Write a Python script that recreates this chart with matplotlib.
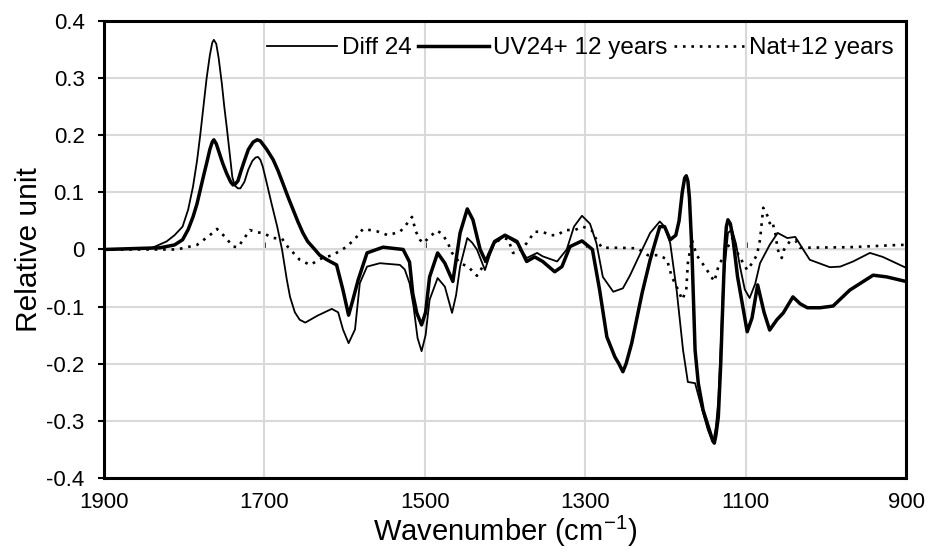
import numpy as np
import matplotlib
matplotlib.use("Agg")
import matplotlib.pyplot as plt

plt.rcParams['font.family'] = ['Liberation Sans', 'DejaVu Sans']
plt.rcParams['mathtext.fontset'] = 'custom'
plt.rcParams['mathtext.rm'] = 'Liberation Sans'
plt.rcParams['mathtext.default'] = 'regular'

# Diff 24 (thin line)
diff_wn = [1900, 1843, 1822, 1812, 1802, 1795, 1789, 1784, 1780, 1776, 1772, 1768,
           1765, 1763, 1760, 1757, 1753, 1750, 1747, 1743, 1740, 1737, 1733, 1730,
           1725, 1720, 1715, 1711, 1708, 1705, 1702, 1697, 1691, 1684, 1678, 1672,
           1668, 1662, 1656, 1649, 1634, 1616, 1608, 1602, 1595, 1587, 1581, 1572,
           1556, 1531, 1525, 1519, 1514, 1509, 1504, 1499, 1494, 1484, 1475, 1466,
           1461, 1456, 1447, 1441, 1435, 1425, 1419, 1413, 1400, 1385, 1373, 1360,
           1353, 1335, 1323, 1314, 1304, 1294, 1286, 1278, 1265, 1253, 1244, 1235,
           1219, 1207, 1201, 1194, 1186, 1178, 1172, 1163, 1154, 1147, 1143, 1140,
           1137, 1134, 1131, 1128, 1122, 1117, 1112, 1107, 1101, 1095, 1088, 1082,
           1070, 1060, 1048, 1038, 1030, 1020, 995, 982, 966, 945, 929, 900]
diff_val = [0.0, 0.001, 0.014, 0.025, 0.04, 0.07, 0.11, 0.155, 0.20, 0.25, 0.30, 0.34,
            0.362, 0.367, 0.36, 0.335, 0.29, 0.25, 0.215, 0.165, 0.127, 0.112, 0.107, 0.107,
            0.118, 0.14, 0.155, 0.161, 0.162, 0.157, 0.145, 0.116, 0.08, 0.04, 0.0, -0.053,
            -0.083, -0.11, -0.123, -0.128, -0.116, -0.104, -0.11, -0.14, -0.164, -0.14, -0.059, -0.03,
            -0.024, -0.027, -0.035, -0.059, -0.10, -0.155, -0.178, -0.15, -0.088, -0.05, -0.065, -0.111,
            -0.08, -0.03, 0.02, 0.012, 0.0, -0.036, -0.01, 0.011, 0.024, 0.011, -0.015, -0.006,
            -0.012, -0.021, 0.0, 0.04, 0.059, 0.045, 0.011, -0.048, -0.074, -0.068, -0.045, -0.018,
            0.029, 0.049, 0.04, 0.011, -0.071, -0.176, -0.232, -0.234, -0.281, -0.316, -0.33, -0.334,
            -0.31, -0.264, -0.17, -0.059, 0.029, 0.035, 0.01, -0.03, -0.07, -0.085, -0.06, -0.024,
            0.008, 0.029, 0.02, 0.022, 0.004, -0.018, -0.031, -0.03, -0.021, -0.006, -0.013, -0.032]

# UV24+ 12 years (thick line)
uv_wn = [1900, 1830, 1812, 1802, 1795, 1789, 1784, 1780, 1776, 1772, 1768, 1765,
         1763, 1760, 1756, 1752, 1747, 1742, 1739, 1736, 1733, 1729, 1725, 1720,
         1714, 1709, 1705, 1697, 1689, 1683, 1677, 1670, 1664, 1658, 1652, 1646,
         1639, 1631, 1622, 1610, 1602, 1595, 1590, 1583, 1572, 1552, 1527, 1519,
         1515, 1510, 1504, 1499, 1494, 1484, 1475, 1465, 1456, 1447, 1440, 1431,
         1424, 1413, 1400, 1385, 1373, 1363, 1353, 1338, 1329, 1319, 1304, 1291,
         1282, 1273, 1263, 1258, 1253, 1249, 1242, 1229, 1219, 1207, 1201, 1194,
         1187, 1183, 1179, 1176, 1174, 1172, 1170, 1167, 1163, 1159, 1153, 1144,
         1141, 1139, 1137, 1134, 1131, 1129, 1126, 1124, 1122, 1119, 1116, 1110,
         1098, 1092, 1085, 1077, 1070, 1061, 1053, 1041, 1032, 1023, 1007, 991,
         970, 941, 924, 900]
uv_val = [0.0, 0.003, 0.008, 0.017, 0.035, 0.057, 0.08, 0.104, 0.128, 0.151, 0.175, 0.188,
          0.192, 0.185, 0.168, 0.151, 0.133, 0.118, 0.113, 0.115, 0.12, 0.138, 0.155, 0.175,
          0.188, 0.192, 0.19, 0.175, 0.157, 0.138, 0.116, 0.09, 0.069, 0.048, 0.029, 0.014,
          0.003, -0.01, -0.018, -0.027, -0.071, -0.115, -0.09, -0.053, -0.006, 0.004, 0.0, -0.022,
          -0.077, -0.111, -0.132, -0.11, -0.048, -0.006, -0.024, -0.056, 0.029, 0.071, 0.052, 0.0,
          -0.021, 0.014, 0.025, 0.014, -0.021, -0.013, -0.021, -0.039, -0.03, 0.005, 0.015, 0.0,
          -0.071, -0.153, -0.188, -0.2, -0.214, -0.2, -0.164, -0.076, -0.018, 0.04, 0.04, 0.017,
          0.025, 0.05, 0.10, 0.125, 0.129, 0.12, 0.09, 0.0, -0.176, -0.234, -0.281, -0.321,
          -0.335, -0.339, -0.325, -0.293, -0.2, -0.118, 0.0, 0.04, 0.052, 0.045, 0.022, -0.048,
          -0.144, -0.12, -0.062, -0.11, -0.141, -0.123, -0.111, -0.083, -0.095, -0.102, -0.102, -0.099,
          -0.071, -0.045, -0.048, -0.056]

# Nat+12 years (dotted line)
nat_wn = [1900, 1809, 1784, 1768, 1759, 1749, 1739, 1733, 1718, 1709, 1702, 1689,
          1678, 1671, 1656, 1643, 1628, 1615, 1597, 1585, 1577, 1560, 1546, 1531,
          1525, 1516, 1511, 1506, 1502, 1494, 1485, 1479, 1472, 1466, 1456, 1446,
          1435, 1425, 1415, 1404, 1396, 1390, 1384, 1373, 1363, 1353, 1344, 1335,
          1325, 1313, 1303, 1292, 1286, 1279, 1257, 1235, 1222, 1207, 1198, 1192,
          1186, 1179, 1174, 1172, 1167, 1161, 1151, 1144, 1139, 1134, 1128, 1122,
          1116, 1110, 1103, 1098, 1092, 1086, 1082, 1078, 1072, 1070, 1067, 1063,
          1060, 1055, 1052, 1045, 1038, 1032, 970, 908, 900]
nat_val = [0.0, 0.0, 0.008, 0.025, 0.036, 0.022, 0.005, 0.004, 0.034, 0.03, 0.029, 0.02,
           0.019, 0.005, -0.018, -0.027, -0.015, -0.01, 0.005, 0.022, 0.036, 0.032, 0.025, 0.031,
           0.04, 0.057, 0.031, 0.017, 0.011, 0.022, 0.033, 0.028, 0.014, -0.006, -0.024, -0.03,
           -0.046, -0.024, 0.008, 0.02, 0.018, -0.006, -0.006, 0.011, 0.031, 0.031, 0.025, 0.025,
           0.034, 0.034, 0.04, 0.034, 0.017, 0.003, 0.003, 0.002, -0.01, -0.01, -0.018, -0.048,
           -0.065, -0.088, -0.071, -0.024, 0.017, -0.01, -0.03, -0.045, -0.056, -0.03, -0.013, 0.005,
           0.02, -0.006, -0.024, -0.036, -0.024, -0.01, 0.017, 0.073, 0.057, 0.046, 0.05, 0.029,
           0.0, -0.015, 0.0, 0.014, 0.016, 0.003, 0.004, 0.008, 0.008]

x_ticks = [1900, 1700, 1500, 1300, 1100, 900]
y_ticks = [-0.4, -0.3, -0.2, -0.1, 0.0, 0.1, 0.2, 0.3, 0.4]
y_labels = ['-0.4', '-0.3', '-0.2', '-0.1', '0', '0.1', '0.2', '0.3', '0.4']

fig = plt.figure(figsize=(9.3, 5.58), dpi=100)
ax = fig.add_axes([0.1118, 0.1434, 0.8624, 0.819])

ax.plot(diff_wn, diff_val, color='black', lw=1.3, label='Diff 24')
ax.plot(uv_wn, uv_val, color='black', lw=2.5, label='UV24+ 12 years')
ax.plot(nat_wn, nat_val, color='black', lw=1.9, linestyle=(0, (1, 2.2)),
        label='Nat+12 years')

ax.set_xlim(1900, 900)
ax.set_ylim(-0.4, 0.4)
ax.set_xticks(x_ticks)
ax.set_yticks(y_ticks)
ax.set_yticklabels(y_labels)
ax.grid(True, color='#d9d9d9', lw=1.5)
ax.set_axisbelow(True)

for s in ax.spines.values():
    s.set_linewidth(2.2)
    s.set_color('black')

ax.tick_params(axis='x', length=0, pad=10, labelsize=16)
ax.tick_params(axis='y', length=4, width=1.5, pad=10, labelsize=16, direction='out')

# zero line with small tick marks
zero = ax.secondary_xaxis(0.5)
zero.set_xticks(x_ticks[1:-1])
zero.tick_params(direction='out', length=5, width=1.8, labelbottom=False, labeltop=False)
zero.spines['bottom'].set_linewidth(2.2)

ax.set_xlabel('Wavenumber (cm$^{-1}$)', fontsize=21, labelpad=1)
ax.set_ylabel('Relative unit', fontsize=21.5, labelpad=2)

ax.legend(loc='center right', bbox_to_anchor=(0.997, 0.94), ncol=3, frameon=False,
          fontsize=17.5, handlelength=2.9, handletextpad=0.2, columnspacing=0.25,
          borderaxespad=0)

fig.savefig('out.png', dpi=100)
